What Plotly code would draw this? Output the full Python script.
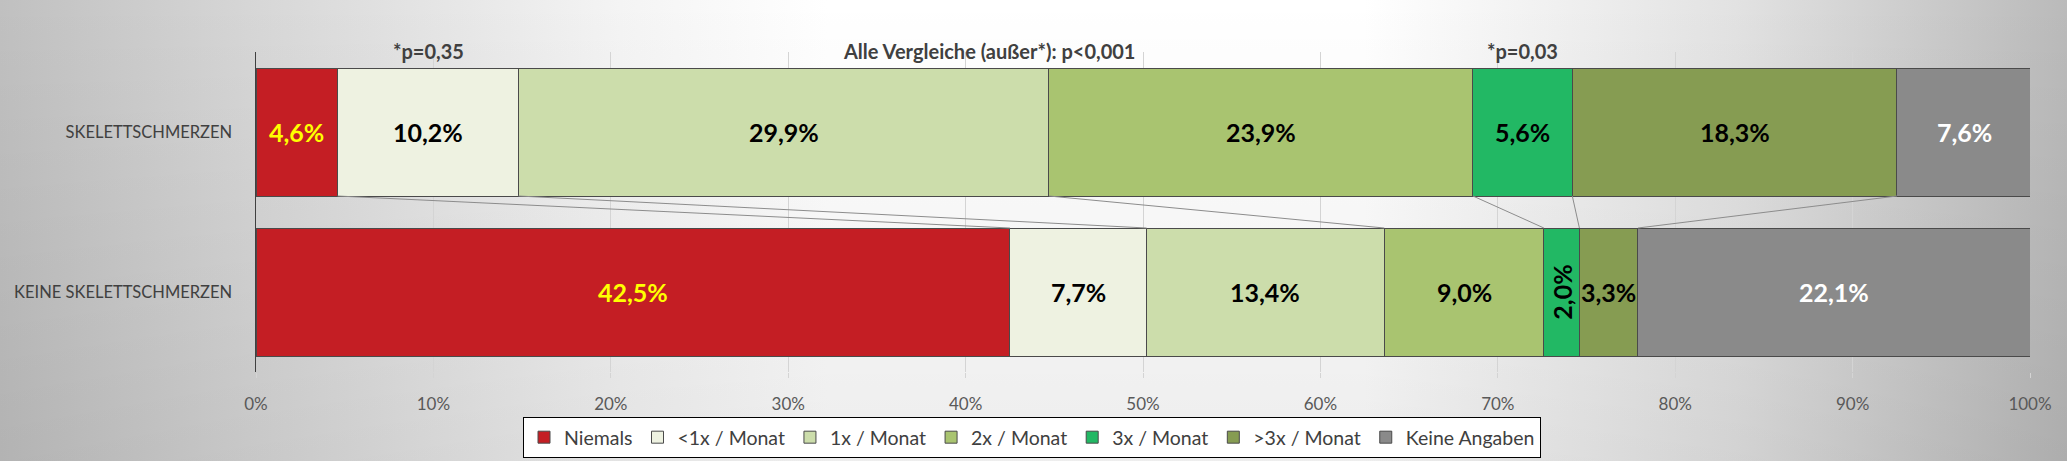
import base64
import plotly.graph_objects as go

# ---------------- data ----------------
categories = ["SKELETTSCHMERZEN", "KEINE SKELETTSCHMERZEN"]
series_names = ["Niemals", "<1x / Monat", "1x / Monat", "2x / Monat",
                "3x / Monat", ">3x / Monat", "Keine Angaben"]
skelett_values = [4.6, 10.2, 29.9, 23.9, 5.6, 18.3, 7.6]
keine_values = [42.5, 7.7, 13.4, 9.0, 2.0, 3.3, 22.1]
x_tick_values = [0, 10, 20, 30, 40, 50, 60, 70, 80, 90, 100]
x_tick_labels = ["0%", "10%", "20%", "30%", "40%", "50%", "60%",
                 "70%", "80%", "90%", "100%"]
p_labels = ["*p=0,35", "Alle Vergleiche (außer*): p<0,001", "*p=0,03"]

# ---------------- style ----------------
colors = ["#C41E24", "#EEF2E1", "#CCDDAB", "#A9C470", "#22B864", "#869C52", "#8A8A8A"]
label_colors = ["#FFFF00", "#000000", "#000000", "#000000", "#000000", "#000000", "#FFFFFF"]
FONT = "Lato, 'Open Sans', sans-serif"
W, H = 2067, 461
ML, MR, MT, MB = 256, 37, 52, 89
PW, PH = W - ML - MR, H - MT - MB

y_pos = [1, 0]  # SKELETTSCHMERZEN on top
BAR_W = 0.8

fig = go.Figure()
for i, name in enumerate(series_names):
    fig.add_trace(go.Bar(
        orientation="h",
        name=name,
        x=[skelett_values[i], keine_values[i]],
        y=y_pos,
        width=BAR_W,
        marker=dict(color=colors[i], line=dict(color="#4a4a4a", width=1)),
        hoverinfo="skip",
    ))


def cumsum(v):
    out, s = [], 0
    for a in v:
        s += a
        out.append(s)
    return out


cum_s = cumsum(skelett_values)
cum_k = cumsum(keine_values)

# series lines between the two bars
lx, ly = [], []
for k in range(len(series_names) - 1):
    lx += [cum_s[k], cum_k[k], None]
    ly += [y_pos[0] - BAR_W / 2, y_pos[1] + BAR_W / 2, None]
fig.add_trace(go.Scatter(x=lx, y=ly, mode="lines", showlegend=False,
                         line=dict(color="#8c8c8c", width=1), hoverinfo="skip"))


def fmt(v):
    return f"{v:.1f}".replace(".", ",") + "%"


annotations = []
for vals, cums, yp in [(skelett_values, cum_s, y_pos[0]), (keine_values, cum_k, y_pos[1])]:
    for i, v in enumerate(vals):
        mid = cums[i] - v / 2
        annotations.append(dict(
            x=mid, y=yp, xref="x", yref="y", text=fmt(v), showarrow=False,
            textangle=-90 if v < 2.5 else 0,
            font=dict(family=FONT, size=25, color=label_colors[i], weight="bold"),
        ))

# p-value annotations at the top
p_x = [cum_s[1] - skelett_values[1] / 2, 41.3, cum_s[4] - skelett_values[4] / 2]
for t, xv in zip(p_labels, p_x):
    annotations.append(dict(
        x=xv, y=1 + 1 / PH, xref="x", yref="paper", text=t, showarrow=False,
        yanchor="middle",
        font=dict(family=FONT, size=20, color="#404040", weight="bold"),
    ))

# background gradient
svg = f'''<svg xmlns="http://www.w3.org/2000/svg" width="{W}" height="{H}" viewBox="0 0 {W} {H}" preserveAspectRatio="none">
<defs>
<linearGradient id="g" x1="0" y1="0" x2="1" y2="0">
<stop offset="0" stop-color="#c0c0c0"/>
<stop offset="0.12" stop-color="#d6d6d6"/>
<stop offset="0.3" stop-color="#f4f4f4"/>
<stop offset="0.4" stop-color="#ffffff"/>
<stop offset="0.66" stop-color="#ffffff"/>
<stop offset="0.84" stop-color="#e2e2e2"/>
<stop offset="1" stop-color="#bababa"/>
</linearGradient>
<linearGradient id="v" x1="0" y1="0" x2="0" y2="1">
<stop offset="0" stop-color="#000000" stop-opacity="0"/>
<stop offset="1" stop-color="#000000" stop-opacity="0.07"/>
</linearGradient>
</defs>
<rect width="{W}" height="{H}" fill="url(#g)"/>
<rect width="{W}" height="{H}" fill="url(#v)"/>
</svg>'''
bg_src = "data:image/svg+xml;base64," + base64.b64encode(svg.encode()).decode()

fig.update_layout(
    width=W, height=H,
    margin=dict(l=ML, r=MR, t=MT, b=MB, pad=0, autoexpand=False),
    barmode="stack",
    bargap=0.2,
    paper_bgcolor="#ffffff",
    plot_bgcolor="rgba(0,0,0,0)",
    font=dict(family=FONT, color="#404040"),
    images=[dict(source=bg_src, xref="paper", yref="paper",
                 x=-ML / PW, y=1 + MT / PH, sizex=W / PW, sizey=H / PH,
                 xanchor="left", yanchor="top", sizing="stretch", layer="below")],
    xaxis=dict(range=[0, 100], tickvals=x_tick_values, ticktext=x_tick_labels,
               showgrid=True, gridcolor="#d4d4d4", gridwidth=1, zeroline=False,
               ticks="outside", ticklen=5, tickcolor="#d4d4d4",
               ticklabelstandoff=12, showline=False, automargin=False,
               tickfont=dict(family=FONT, size=17, color="#595959")),
    yaxis=dict(range=[-0.5, 1.5], tickvals=y_pos, ticktext=categories,
               showgrid=False, zeroline=False, showline=True,
               linecolor="#404040", linewidth=1.5, ticks="",
               ticklabelstandoff=19, automargin=False,
               tickfont=dict(family=FONT, size=16.5, color="#404040")),
    legend=dict(orientation="h", x=(523 - ML) / PW, y=1 - (417 - MT) / PH,
                xanchor="left", yanchor="top", bgcolor="#ffffff",
                bordercolor="#000000", borderwidth=1,
                font=dict(family=FONT, size=19.5, color="#404040"),
                traceorder="normal", itemclick=False),
    annotations=annotations,
    showlegend=True,
)

fig.write_html(
    "out.html",
    config={"displayModeBar": False, "staticPlot": True},
    post_script="document.body.style.margin='0';document.body.style.overflow='hidden';"
                "document.documentElement.style.overflow='hidden';",
)
